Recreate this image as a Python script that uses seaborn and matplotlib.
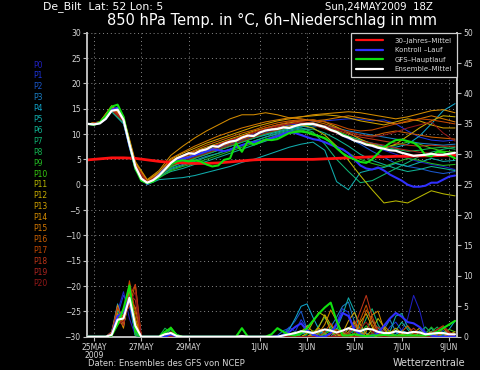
import pandas as pd
import matplotlib
matplotlib.use("Agg")
import matplotlib.pyplot as plt
from matplotlib.lines import Line2D
import seaborn as sns

# ==========================
# Data
# ==========================
start = pd.Timestamp("2009-05-24 18:00")

members = ["P%d" % i for i in range(21)]
member_colors = ["#2020c0", "#1c34dc", "#1a58cc", "#1a80c8", "#10a6cc", "#10acac",
                 "#10b494", "#10b474", "#12b450", "#22b822", "#38c810", "#b8b800",
                 "#c8ac00", "#d0a000", "#d48c00", "#d47800", "#cc6000", "#c44800",
                 "#bc3418", "#ac2420", "#941818"]

# 850 hPa temperature, 12-hourly (24MAY 18Z .. 9JUN 06Z)
temp_p0 = [12.0, 12.3, 14.6, 12.8, 3.8, 0.5, 1.9, 4.0, 5.2, 6.0, 6.6, 7.2, 8.0, 8.8, 9.6, 10.4, 11.0,
           11.5, 11.8, 12.2, 11.4, 10.2, 9.0, 8.4, 7.5, 6.8, 6.0, 5.2, 4.5, 4.0, 3.6, 3.0]
temp_p1 = [12.0, 12.1, 15.0, 12.4, 3.4, 0.3, 2.0, 4.4, 5.5, 6.4, 7.2, 7.8, 8.6, 9.2, 10.0, 10.6, 11.2,
           11.8, 12.0, 12.4, 12.6, 12.8, 13.0, 12.9, 12.6, 12.8, 12.0, 10.6, 9.4, 8.8, 8.6, 8.8]
temp_p2 = [12.0, 12.2, 14.7, 12.6, 3.6, 0.4, 1.6, 3.8, 4.8, 5.7, 6.4, 7.0, 7.6, 8.4, 9.2, 10.0, 10.6,
           11.2, 11.5, 11.8, 11.2, 10.4, 9.2, 8.0, 6.6, 5.4, 4.2, 3.6, 3.2, 2.6, 2.2, 2.6]
temp_p3 = [12.0, 12.2, 14.5, 12.2, 3.2, 0.2, 1.4, 3.2, 4.0, 4.8, 5.6, 6.2, 7.0, 7.8, 8.6, 9.4, 10.0,
           10.6, 11.0, 11.4, 11.6, 11.2, 10.6, 10.2, 9.8, 9.4, 9.0, 8.6, 8.2, 8.0, 7.8, 8.0]
temp_p4 = [12.0, 12.3, 14.9, 12.7, 3.7, 0.5, 1.8, 3.6, 4.4, 5.2, 6.0, 6.8, 7.6, 8.4, 9.2, 9.8, 10.4,
           11.0, 11.4, 11.8, 11.4, 10.6, 9.6, 8.8, 8.2, 7.6, 7.4, 8.0, 9.6, 12.0, 14.6, 16.0]
temp_p5 = [12.0, 12.1, 14.4, 12.0, 2.9, 0.0, 1.0, 1.2, 1.4, 1.8, 2.4, 3.0, 3.6, 4.4, 5.0, 5.8, 6.6,
           7.4, 8.0, 8.4, 6.8, 0.6, -1.0, 2.4, 3.0, 3.4, 4.2, 3.6, 4.4, 5.2, 4.6, 4.8]
temp_p6 = [12.0, 12.2, 14.8, 12.5, 3.5, 0.3, 1.5, 2.6, 3.2, 4.0, 4.6, 5.4, 6.2, 7.0, 7.8, 8.6, 9.4,
           10.2, 10.8, 11.0, 10.2, 9.0, 7.6, 6.0, 4.8, 4.0, 3.2, 2.6, 3.0, 3.6, 3.2, 2.8]
temp_p7 = [12.0, 12.2, 15.1, 12.9, 3.9, 0.6, 1.7, 3.0, 3.8, 4.6, 5.4, 6.2, 7.0, 7.8, 8.6, 9.4, 10.2,
           10.8, 11.2, 10.4, 8.0, 5.0, 2.6, 0.4, 0.8, 2.0, 3.2, 4.4, 5.6, 6.4, 7.0, 7.4]
temp_p8 = [12.0, 12.2, 14.6, 12.3, 3.3, 0.3, 1.9, 3.4, 4.4, 5.2, 6.0, 6.8, 7.6, 8.4, 9.2, 10.0, 10.6,
           11.2, 11.6, 11.8, 11.2, 10.4, 9.4, 8.6, 8.0, 7.4, 7.0, 6.6, 6.8, 7.2, 7.4, 7.0]
temp_p9 = [12.0, 12.1, 14.7, 12.4, 3.4, 0.2, 1.3, 2.8, 3.6, 4.2, 5.0, 5.8, 6.6, 7.4, 8.2, 9.0, 9.8,
           10.4, 10.8, 10.2, 9.0, 7.6, 6.2, 5.0, 4.2, 3.6, 4.4, 5.2, 4.8, 4.2, 3.8, 4.0]
temp_p10 = [12.0, 12.3, 15.2, 13.0, 4.0, 0.6, 2.1, 3.6, 4.6, 5.4, 6.2, 7.0, 7.8, 8.6, 9.4, 10.2, 10.8,
            11.4, 12.0, 12.2, 11.6, 10.6, 9.6, 8.6, 7.8, 7.4, 7.8, 8.4, 8.0, 7.2, 6.6, 6.4]
temp_p11 = [12.0, 12.2, 14.9, 12.8, 3.8, 0.5, 2.2, 4.2, 5.2, 6.0, 6.8, 7.4, 8.2, 9.0, 9.8, 10.6, 11.2,
            11.6, 11.8, 11.2, 9.8, 7.6, 4.8, 1.8, -1.0, -3.6, -3.2, -3.6, -2.4, -1.2, -1.8, -2.2]
temp_p12 = [12.0, 12.3, 15.3, 13.2, 4.2, 0.7, 2.4, 4.6, 5.6, 6.6, 7.4, 8.2, 9.0, 9.8, 10.6, 11.2, 11.8,
            12.2, 12.6, 12.8, 12.4, 11.4, 10.2, 9.0, 8.0, 7.2, 8.0, 9.6, 11.2, 12.6, 13.6, 13.4]
temp_p13 = [12.0, 12.4, 15.4, 13.3, 4.3, 0.8, 2.5, 5.0, 6.2, 7.2, 8.2, 9.0, 9.8, 10.6, 11.4, 12.0, 12.6,
            13.0, 13.4, 13.6, 13.8, 13.6, 13.2, 12.6, 12.2, 11.8, 12.4, 13.0, 12.6, 11.8, 11.2, 11.2]
temp_p14 = [12.0, 12.4, 15.6, 13.5, 4.6, 1.0, 2.8, 5.8, 7.6, 9.2, 10.6, 11.8, 13.0, 13.8, 13.8, 14.2, 13.8,
            13.2, 13.4, 13.8, 14.0, 14.2, 14.4, 14.2, 13.8, 13.4, 13.0, 13.4, 14.0, 14.6, 14.8, 14.2]
temp_p15 = [12.0, 12.3, 15.2, 13.1, 4.1, 0.6, 2.3, 5.2, 6.4, 7.6, 8.6, 9.6, 10.4, 11.2, 11.8, 12.4, 12.8,
            13.2, 13.0, 12.6, 12.8, 13.2, 13.6, 13.2, 12.8, 12.4, 12.0, 12.4, 13.0, 13.6, 13.0, 12.4]
temp_p16 = [12.0, 12.2, 15.0, 12.9, 3.9, 0.5, 2.0, 4.8, 5.8, 6.8, 7.8, 8.6, 9.4, 10.2, 10.8, 11.6, 12.2,
            12.6, 12.8, 12.6, 12.0, 11.2, 10.4, 9.8, 9.6, 10.2, 10.6, 10.2, 9.8, 9.4, 9.2, 9.0]
temp_p17 = [12.0, 12.1, 14.8, 12.6, 3.6, 0.4, 1.8, 4.4, 5.4, 6.4, 7.2, 8.0, 8.8, 9.6, 10.4, 11.2, 11.8,
            12.4, 12.6, 12.8, 12.4, 11.8, 11.0, 10.6, 10.8, 11.4, 12.0, 12.6, 13.0, 12.8, 12.4, 12.0]
temp_p18 = [12.0, 12.2, 14.9, 12.7, 3.7, 0.4, 1.7, 4.0, 5.0, 5.8, 6.6, 7.4, 8.2, 9.0, 9.8, 10.6, 11.4,
            12.0, 12.4, 12.2, 11.6, 10.8, 10.0, 9.4, 9.0, 8.6, 8.2, 7.8, 7.6, 7.8, 7.6, 7.6]
temp_p19 = [12.0, 12.3, 15.1, 12.9, 3.9, 0.6, 2.0, 4.6, 5.6, 6.4, 7.2, 8.0, 8.8, 9.4, 10.2, 11.0, 11.6,
            12.0, 12.2, 11.8, 11.0, 10.2, 9.2, 8.6, 8.2, 7.8, 7.2, 6.8, 6.4, 6.2, 6.0, 6.0]
temp_p20 = [12.0, 12.2, 14.7, 12.5, 3.5, 0.3, 1.6, 3.8, 4.6, 5.4, 6.2, 7.0, 7.8, 8.6, 9.4, 10.2, 10.8,
            11.4, 11.8, 12.0, 11.6, 11.0, 10.4, 9.8, 9.4, 9.8, 10.4, 11.2, 11.8, 12.4, 10.2, 8.6]

# 30-year climate mean, 12-hourly
temp_clim = [4.9, 5.1, 5.3, 5.3, 5.2, 4.9, 4.6, 4.4, 4.3, 4.2, 4.2, 4.3, 4.5, 4.7, 4.9, 5.0,
             5.0, 5.0, 5.0, 5.0, 5.1, 5.2, 5.3, 5.4, 5.5, 5.5, 5.6, 5.6, 5.7, 5.7, 5.8, 5.8]

# 6-hourly runs (24MAY 18Z .. 9JUN 06Z)
temp_mean = [12.0, 11.9, 12.1, 13.0, 14.6, 14.8, 12.8, 8.0, 3.6, 1.2,
             0.4, 0.9, 1.8, 3.0, 4.3, 5.2, 5.7, 6.2, 6.1, 6.7,
             7.0, 7.6, 7.5, 8.1, 8.5, 8.7, 9.3, 9.7, 9.6, 10.3,
             10.7, 10.9, 11.0, 11.3, 11.2, 11.6, 11.9, 12.0, 12.0, 11.7,
             11.4, 10.8, 10.4, 9.7, 9.3, 8.7, 8.4, 7.9, 7.7, 7.3,
             7.1, 6.8, 6.7, 6.3, 6.0, 5.7, 5.8, 5.9, 6.1, 5.9,
             5.9, 6.1, 6.3]
temp_control = [12.0, 11.9, 12.2, 13.0, 14.8, 15.2, 12.8, 7.6, 3.4, 1.0,
                0.2, 0.8, 2.0, 3.2, 4.0, 4.8, 5.2, 5.4, 5.8, 6.2,
                6.6, 7.0, 6.8, 6.6, 6.9, 7.4, 7.8, 8.2, 8.4, 8.6,
                8.8, 9.2, 9.6, 10.0, 10.4, 10.2, 9.8, 9.4, 9.0, 8.8,
                8.4, 7.9, 7.4, 7.0, 6.2, 5.0, 3.8, 3.2, 3.0, 3.4,
                2.8, 2.0, 1.4, 0.8, 0.0, -0.4, -0.4, -0.2, 0.4, 0.4,
                1.0, 1.6, 1.8]
temp_gfs = [12.0, 11.8, 12.3, 13.6, 15.4, 15.8, 13.4, 8.0, 3.2, 0.8,
            0.3, 0.6, 1.6, 3.0, 4.0, 4.6, 4.8, 4.6, 4.8, 4.6,
            4.0, 3.6, 3.8, 4.9, 5.2, 8.2, 6.5, 8.6, 7.9, 8.4,
            8.9, 8.8, 9.0, 9.6, 10.2, 10.4, 10.5, 10.3, 9.9, 9.6,
            9.2, 8.4, 7.2, 6.2, 5.5, 5.0, 4.5, 4.3, 5.0, 6.2,
            7.4, 8.2, 8.8, 8.9, 8.6, 8.3, 7.4, 5.8, 5.6, 6.5,
            6.4, 5.8, 5.2]

# 6h precipitation (mm), 6-hourly
rain_p0 = [0, 0, 0, 0, 0.4, 4.2, 7.4, 3.0, 0.2, 0, 0, 0, 0, 0, 0.3, 0, 0, 0, 0, 0,
           0, 0, 0, 0, 0, 0, 0, 0, 0, 0, 0, 0, 0, 0.2, 0.6, 0.3, 0, 0, 0.4, 0.8,
           0.2, 0, 0, 0.5, 1.2, 0.4, 0, 0, 0.3, 0.6, 0.2, 0, 0.8, 1.0, 3.0, 6.8, 4.4, 0.6, 0.3, 0,
           0, 0.2, 0]
rain_p1 = [0, 0, 0, 0, 0.2, 3.6, 6.8, 5.0, 0.4, 0, 0, 0, 0, 0, 0.2, 0, 0, 0, 0, 0,
           0, 0, 0, 0, 0, 0, 0, 0, 0, 0, 0, 0, 0, 0.4, 1.6, 0.8, 2.8, 1.4, 0.2, 0,
           0, 0.6, 2.4, 4.6, 4.0, 1.0, 0, 0, 0.4, 1.0, 0.2, 1.6, 2.4, 1.0, 0, 0, 0, 0, 0.4, 0.8,
           0.2, 0, 0]
rain_p2 = [0, 0, 0, 0, 0.6, 5.0, 2.4, 7.0, 0.6, 0, 0, 0, 0, 0.5, 0, 0, 0, 0, 0, 0,
           0, 0, 0, 0, 0, 0, 0, 0, 0, 0, 0, 0, 0.2, 1.0, 1.4, 2.6, 4.2, 1.2, 0, 0.4,
           1.2, 0.8, 0, 0, 0.6, 1.8, 0.6, 0, 0, 0, 0.8, 0.4, 0, 0, 0, 0.3, 1.0, 0.4, 0, 0,
           0, 0.6, 0.2]
rain_p3 = [0, 0, 0, 0, 0.4, 2.8, 4.6, 6.2, 0.2, 0, 0, 0, 0, 0, 0, 0, 0, 0, 0, 0,
           0, 0, 0, 0, 0, 0, 0, 0, 0, 0, 0, 0, 0, 0, 0, 0.4, 1.0, 0, 0, 0,
           0.6, 1.6, 3.2, 5.0, 5.7, 2.4, 0.8, 0, 0, 0.4, 1.2, 2.8, 0.8, 0, 0, 0, 0, 0, 0, 0.4,
           1.0, 0.4, 0]
rain_p4 = [0, 0, 0, 0, 0.8, 5.4, 1.8, 6.4, 0.3, 0, 0, 0, 0, 0, 0, 0, 0, 0, 0, 0,
           0, 0, 0, 0, 0, 0, 0, 0, 0, 0, 0, 0, 0, 0.3, 1.2, 3.0, 5.0, 5.4, 3.2, 1.2,
           0.4, 0, 0, 0, 0, 0.6, 1.4, 0.6, 0, 0, 0, 0, 0.4, 1.0, 0.6, 0, 0, 0, 0, 0,
           0.4, 1.2, 2.6]
rain_p5 = [0, 0, 0, 0, 0.3, 3.0, 2.2, 7.2, 0.8, 0, 0, 0, 0, 0, 0, 0, 0, 0, 0, 0,
           0, 0, 0, 0, 0, 0, 0, 0, 0, 0, 0, 0, 0, 0, 0, 0, 0, 0, 0.4, 0.8,
           0.3, 0, 1.2, 3.6, 6.4, 4.2, 1.0, 0, 0, 0, 0, 0.8, 3.4, 3.8, 1.6, 0.4, 0, 0, 0.6, 0.2,
           0, 0, 0]
rain_p6 = [0, 0, 0, 0, 0.5, 4.4, 3.0, 6.0, 0.5, 0, 0, 0, 0, 0, 0.6, 0, 0, 0, 0, 0,
           0, 0, 0, 0, 0, 0, 0, 0, 0, 0, 0, 0, 0, 0, 0, 0, 0.4, 0.8, 0, 0,
           0, 0.6, 1.4, 0.8, 0, 0, 0, 1.2, 2.6, 1.4, 0.4, 0, 1.0, 2.4, 1.2, 0, 0, 0.6, 1.4, 0.4,
           0, 0, 0]
rain_p7 = [0, 0, 0, 0, 0.2, 2.4, 3.4, 7.6, 1.0, 0, 0, 0, 0, 0.4, 1.2, 0.4, 0, 0, 0, 0,
           0, 0, 0, 0, 0, 0, 0, 0, 0, 0, 0, 0, 0, 0, 0, 0, 0, 0, 0, 0,
           0.6, 1.2, 0.6, 0, 0, 0, 0.8, 3.0, 4.6, 2.0, 0.4, 0, 0, 0, 0, 0, 0.6, 1.6, 0.6, 0,
           0, 0, 0]
rain_p8 = [0, 0, 0, 0, 0.4, 3.2, 2.6, 8.0, 0.4, 0, 0, 0, 0, 1.4, 0.6, 0, 0, 0, 0, 0,
           0, 0, 0, 0, 0, 0, 0, 0, 0, 0, 0, 0, 0, 0, 0, 0, 0, 0, 0.4, 1.8,
           3.2, 1.6, 0, 0, 0.4, 1.0, 0, 0, 0, 0, 0.6, 0.2, 0, 0, 0, 0, 0, 0, 0.8, 1.6,
           0.4, 0, 0]
rain_p9 = [0, 0, 0, 0, 0.6, 4.0, 1.6, 7.4, 0.2, 0, 0, 0, 0, 0, 0.8, 0, 0, 0, 0, 0,
           0, 0, 0, 0, 0, 0, 0, 0, 0, 0, 0, 0, 0, 0, 0, 0, 0, 0.4, 1.0, 0.4,
           0, 0, 0, 0, 0, 0, 0.6, 1.8, 0.6, 0, 0, 0, 0, 0, 0.4, 0, 0, 0.4, 1.6, 0.6,
           0, 0, 0]
rain_p10 = [0, 0, 0, 0, 0.3, 2.0, 2.8, 8.2, 1.4, 0, 0, 0, 0, 0.6, 1.6, 0.3, 0, 0, 0, 0,
            0, 0, 0, 0, 0, 0, 0, 0, 0, 0, 0, 0, 0, 0, 0.4, 0.8, 0, 0, 0, 0,
            0.4, 1.0, 0, 0, 0.6, 0, 0, 0, 0, 0, 0.4, 1.0, 0, 0, 0, 0, 0, 0, 0, 0,
            0.6, 1.2, 0.8]
rain_p11 = [0, 0, 0, 0, 0.5, 3.4, 4.0, 5.6, 2.0, 0, 0, 0, 0, 0, 0, 0, 0, 0, 0, 0,
            0, 0, 0, 0, 0, 0, 0, 0, 0, 0, 0, 0, 0, 0, 0, 0, 0, 0.6, 2.4, 4.0,
            3.4, 1.0, 0, 0, 1.4, 2.2, 0.6, 0, 1.2, 3.0, 1.6, 0, 0, 0.4, 0, 0, 0.8, 0.4, 0, 0,
            0, 0, 0]
rain_p12 = [0, 0, 0, 0, 0.2, 2.6, 2.0, 6.8, 3.0, 0, 0, 0, 0, 0, 0.6, 0, 0, 0, 0, 0,
            0, 0, 0, 0, 0, 0, 0, 0, 0, 0, 0, 0, 0, 0, 0, 0, 0, 0, 0.6, 1.6,
            3.6, 2.0, 0.4, 0, 0, 0.6, 2.4, 3.8, 1.6, 0.4, 0, 0, 0, 0, 0, 0.6, 1.4, 0.4, 0, 0,
            0, 0, 0]
rain_p13 = [0, 0, 0, 0, 0.7, 4.6, 3.2, 7.8, 1.2, 0, 0, 0, 0, 0, 0, 0, 0, 0, 0, 0,
            0, 0, 0, 0, 0, 0, 0, 0, 0, 0, 0, 0, 0, 0, 0, 0, 0.8, 1.8, 0.8, 0,
            0, 0, 0, 0.6, 2.6, 4.0, 2.0, 0.4, 0, 0, 0, 0.6, 1.4, 0.6, 0, 0, 0, 0, 0, 0,
            0, 0.4, 0.8]
rain_p14 = [0, 0, 0, 0, 0.4, 3.8, 1.4, 8.8, 2.6, 0, 0, 0, 0, 0.4, 0, 0, 0, 0, 0, 0,
            0, 0, 0, 0, 0, 0, 0, 0, 0, 0, 0, 0, 0, 0, 0, 0, 0, 0, 0, 0.6,
            2.0, 4.4, 2.6, 0.6, 0, 0, 0, 0.8, 3.6, 4.2, 1.2, 0, 0, 0, 0, 0, 0, 0.4, 0.8, 0,
            0, 0, 0]
rain_p15 = [0, 0, 0, 0, 0.6, 5.2, 2.0, 6.2, 4.8, 0, 0, 0, 0, 0, 0, 0, 0, 0, 0, 0,
            0, 0, 0, 0, 0, 0, 0, 0, 0, 0, 0, 0, 0, 0, 0, 0, 0, 0, 0.4, 1.4,
            0.6, 0, 0, 0, 0.8, 2.6, 1.0, 0, 0, 0.6, 1.8, 0.8, 0, 0, 0, 0, 0, 0, 0, 0.6,
            1.4, 0.4, 0]
rain_p16 = [0, 0, 0, 0, 0.3, 2.2, 3.6, 5.0, 8.6, 0, 0, 0, 0, 0, 0.8, 0.2, 0, 0, 0, 0,
            0, 0, 0, 0, 0, 0, 0, 0, 0, 0, 0, 0, 0, 0, 0, 0, 0, 0, 0, 0,
            0, 0.4, 1.2, 0.6, 0, 0, 1.2, 4.4, 2.8, 0.6, 0, 0, 0, 0.8, 1.8, 0.6, 0, 0, 0, 0,
            0.6, 0, 0]
rain_p17 = [0, 0, 0, 0, 0.5, 3.0, 2.4, 9.2, 4.0, 0, 0, 0, 0, 0, 0, 0, 0, 0, 0, 0,
            0, 0, 0, 0, 0, 0, 0, 0, 0, 0, 0, 0, 0, 0, 0, 0, 0, 0, 0, 0,
            0.8, 2.2, 0.8, 0, 0, 0.6, 2.8, 5.2, 2.0, 0.4, 0, 0, 0, 0, 0, 0, 0, 0, 0.4, 1.2,
            1.8, 0.8, 0]
rain_p18 = [0, 0, 0, 0, 0.8, 4.8, 2.8, 6.6, 8.6, 0, 0, 0, 0, 0, 0, 0, 0, 0, 0, 0,
            0, 0, 0, 0, 0, 0, 0, 0, 0, 0, 0, 0, 0, 0, 0, 0, 0, 0, 0, 0,
            0, 0, 0, 0, 0.4, 1.6, 4.2, 6.8, 3.4, 0.8, 0, 0, 0, 0, 0.6, 1.4, 0.4, 0, 0, 0,
            1.6, 0.6, 0]
rain_p19 = [0, 0, 0, 0, 0.4, 3.4, 1.8, 7.0, 6.0, 0, 0, 0, 0, 0, 0, 0, 0, 0, 0, 0,
            0, 0, 0, 0, 0, 0, 0, 0, 0, 0, 0, 0, 0, 0, 0, 0, 0, 0, 0, 0,
            0, 0, 0.4, 1.0, 0.4, 0, 0, 0, 0.6, 1.6, 0.8, 0, 0, 0, 0, 0, 0, 0, 0.6, 1.2,
            1.6, 0.6, 0]
rain_p20 = [0, 0, 0, 0, 0.2, 2.0, 2.6, 5.4, 7.4, 0, 0, 0, 0, 0, 0.3, 0, 0, 0, 0, 0,
            0, 0, 0, 0, 0, 0, 0, 0, 0, 0, 0, 0, 0, 0, 0, 0, 0, 0, 0, 0,
            0, 0, 0, 0, 0, 0.6, 1.4, 2.4, 0.8, 0, 0, 0, 0, 0, 0, 0.4, 0.8, 0, 0, 0,
            0, 0, 0.6]
rain_gfs = [0, 0, 0, 0, 0.2, 2.0, 4.6, 8.4, 1.0, 0, 0, 0, 0, 0.8, 1.4, 0.2, 0, 0, 0, 0,
            0, 0, 0, 0, 0, 0, 1.4, 0, 0, 0, 0, 0.4, 1.4, 0.8, 0.3, 0.2, 0.6, 1.4, 2.6, 3.8,
            4.8, 5.6, 2.6, 0.2, 0.2, 0.4, 0.2, 0.1, 0.2, 0.2, 0.3, 0.2, 0.2, 0.2, 0.2, 0.2, 0.2, 0.2, 0.4, 0.8,
            1.4, 2.0, 2.6]
rain_control = [0, 0, 0, 0, 0.3, 3.4, 4.0, 6.4, 1.4, 0, 0, 0, 0, 0, 0.4, 0, 0, 0, 0, 0,
                0, 0, 0, 0, 0, 0, 0, 0, 0, 0, 0, 0, 0, 0.2, 0.8, 1.6, 2.2, 1.0, 0.4, 0,
                0, 0.6, 2.0, 3.9, 3.4, 1.2, 0.4, 0, 0, 0.6, 1.8, 3.0, 3.9, 3.3, 2.4, 2.2, 1.6, 0.6, 0.2, 0,
                0, 0, 0]
rain_mean = [0, 0, 0, 0, 0.3, 2.8, 3.0, 6.4, 1.8, 0, 0, 0, 0, 0.4, 0.6, 0.1, 0, 0, 0, 0,
             0, 0, 0, 0, 0, 0, 0.1, 0, 0, 0, 0, 0, 0, 0.2, 0.4, 0.6, 0.9, 0.8, 0.6, 0.9,
             1.2, 1.0, 0.7, 1.0, 1.4, 1.1, 0.9, 1.3, 1.2, 0.8, 0.6, 0.6, 0.9, 0.7, 0.6, 0.8, 0.7, 0.4, 0.5, 0.6,
             0.6, 0.4, 0.4]

tick_dates = ["2009-05-25", "2009-05-27", "2009-05-29", "2009-06-01",
              "2009-06-03", "2009-06-05", "2009-06-07", "2009-06-09"]
tick_labels = ["25MAY\n2009", "27MAY", "29MAY", "1JUN", "3JUN", "5JUN", "7JUN", "9JUN"]
legend_labels = ["30\u2013Jahres\u2013Mittel", "Kontroll \u2013Lauf", "GFS\u2013Hauptlauf", "Ensemble\u2013Mittel"]

temp_members = [temp_p0, temp_p1, temp_p2, temp_p3, temp_p4, temp_p5, temp_p6, temp_p7, temp_p8, temp_p9,
                temp_p10, temp_p11, temp_p12, temp_p13, temp_p14, temp_p15, temp_p16, temp_p17, temp_p18,
                temp_p19, temp_p20]
rain_members = [rain_p0, rain_p1, rain_p2, rain_p3, rain_p4, rain_p5, rain_p6, rain_p7, rain_p8, rain_p9,
                rain_p10, rain_p11, rain_p12, rain_p13, rain_p14, rain_p15, rain_p16, rain_p17, rain_p18,
                rain_p19, rain_p20]

times_12h = pd.date_range(start, periods=len(temp_clim), freq="12h")
times_6h = pd.date_range(start, periods=len(temp_mean), freq="6h")

temp_df = pd.concat([pd.DataFrame({"time": times_12h, "temp": v, "member": m})
                     for m, v in zip(members, temp_members)], ignore_index=True)
rain_df = pd.concat([pd.DataFrame({"time": times_6h, "rain": v, "member": m})
                     for m, v in zip(members, rain_members)], ignore_index=True)

# ==========================
# Style
# ==========================
sns.set_theme(style="dark", rc={"axes.facecolor": "black", "figure.facecolor": "black"})
plt.rcParams["font.family"] = ["DejaVu Sans"]

RED, BLUE, GREEN, WHITE = "#ff1010", "#3030ff", "#10e010", "#ffffff"
GREY = "#bdbdbd"
TXT = "#d8d8d8"

fig = plt.figure(figsize=(4.8, 3.7), dpi=100)
ax = fig.add_axes([87 / 480, 1 - 336.7 / 370, 370 / 480, 304 / 370])
ax.set_facecolor("black")

# temperature spaghetti
sns.lineplot(data=temp_df, x="time", y="temp", hue="member", hue_order=members,
             palette=member_colors, linewidth=0.75, legend=False, estimator=None,
             sort=False, ax=ax)
sns.lineplot(x=times_12h, y=temp_clim, color=RED, linewidth=2.0, ax=ax)
sns.lineplot(x=times_6h, y=temp_control, color=BLUE, linewidth=1.5, ax=ax)
sns.lineplot(x=times_6h, y=temp_gfs, color=GREEN, linewidth=1.5, ax=ax)
sns.lineplot(x=times_6h, y=temp_mean, color=WHITE, linewidth=1.6, ax=ax)

ax.set_ylim(-30, 30)
ax.set_yticks(range(-30, 31, 5))
ax.set_xlim(start - pd.Timedelta(hours=1), start + pd.Timedelta(hours=374))
ax.set_xticks(pd.to_datetime(tick_dates))
ax.set_xticklabels(tick_labels)
ax.set_xlabel("")
ax.set_ylabel("")
ax.grid(True, color="#8a8a8a", linestyle=(0, (1, 3)), linewidth=0.7)
ax.set_axisbelow(True)
ax.tick_params(axis="both", colors=GREY, labelcolor=TXT, labelsize=5.5, length=3,
               width=0.8, pad=1.5, direction="out")
ax.tick_params(axis="y", left=True)
ax.tick_params(axis="x", bottom=True)
for lab in ax.get_xticklabels():
    lab.set_linespacing(0.9)
ax.spines["top"].set_visible(False)
for s in ["left", "bottom", "right"]:
    ax.spines[s].set_color(GREY)
    ax.spines[s].set_linewidth(1.4)

# precipitation on the right axis
ax2 = ax.twinx()
sns.lineplot(data=rain_df, x="time", y="rain", hue="member", hue_order=members,
             palette=member_colors, linewidth=0.75, legend=False, estimator=None,
             sort=False, ax=ax2)
sns.lineplot(x=times_6h, y=rain_control, color=BLUE, linewidth=1.5, ax=ax2)
sns.lineplot(x=times_6h, y=rain_gfs, color=GREEN, linewidth=1.5, ax=ax2)
sns.lineplot(x=times_6h, y=rain_mean, color=WHITE, linewidth=1.5, ax=ax2)
ax2.set_ylim(0, 50)
ax2.set_yticks(range(0, 51, 5))
ax2.set_ylabel("")
ax2.grid(False)
ax2.tick_params(axis="y", right=True, colors=GREY, labelcolor=TXT, labelsize=5.5,
                length=3, width=0.8, pad=1.5)
for s in ["top", "left", "bottom"]:
    ax2.spines[s].set_visible(False)
ax2.spines["right"].set_color(GREY)
ax2.spines["right"].set_linewidth(1.4)
ax2.set_xlim(ax.get_xlim())

handles = [Line2D([], [], color=c, linewidth=1.6) for c in [RED, BLUE, GREEN, WHITE]]
leg = ax2.legend(handles, legend_labels, loc="upper right", bbox_to_anchor=(1, 1),
                 borderaxespad=0, fontsize=5, labelcolor=TXT, facecolor="black",
                 edgecolor="#d0d0d0", framealpha=1, fancybox=False,
                 handlelength=3.9, handletextpad=1.7, labelspacing=0.5,
                 borderpad=0.7)
leg.get_frame().set_linewidth(0.9)

# member labels on the left
for i, (m, c) in enumerate(zip(members, member_colors)):
    fig.text(33 / 480, 1 - (65 + i * 10.9) / 370, m, color=c, fontsize=5.5, va="center")

# header / footer texts
fig.text(43 / 480, 1 - 7 / 370, "De_Bilt  Lat: 52 Lon: 5", color=WHITE, fontsize=7.8, va="center")
fig.text(433 / 480, 1 - 7 / 370, "Sun,24MAY2009  18Z", color=WHITE, fontsize=7.3, va="center", ha="right")
fig.text(272 / 480, 1 - 20 / 370, "850 hPa Temp. in \u00b0C, 6h\u2013Niederschlag in mm",
         color=WHITE, fontsize=10.5, va="center", ha="center")
fig.text(88 / 480, 1 - 364 / 370, "Daten: Ensembles des GFS von NCEP", color=TXT, fontsize=6, va="center")
fig.text(465 / 480, 1 - 363 / 370, "Wetterzentrale", color=TXT, fontsize=7, va="center", ha="right")

fig.savefig("out.png", dpi=100, facecolor="black")
plt.close()
